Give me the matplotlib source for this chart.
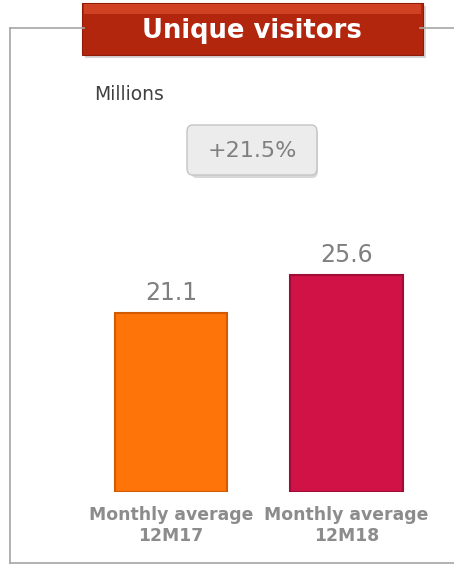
import matplotlib
matplotlib.use('Agg')
import matplotlib.pyplot as plt
from matplotlib.patches import FancyBboxPatch, Rectangle
from matplotlib.lines import Line2D

# data
categories = ['Monthly average\n12M17', 'Monthly average\n12M18']
values = [21.1, 25.6]
value_labels = ['21.1', '25.6']
growth_label = '+21.5%'
title = 'Unique visitors'
unit_label = 'Millions'

bar_colors = ['#ff7409', '#d01247']
edge_colors = ['#d25a00', '#a10c36']

W, H = 454, 567
fig = plt.figure(figsize=(W / 100, H / 100), dpi=100)
fig.patch.set_facecolor('white')

def fx(px):
    return px / W

def fy(py):
    # py measured from top of image
    return 1 - py / H

# frame lines
frame_col = '#a6a6a6'
fig.add_artist(Line2D([fx(10), fx(10)], [fy(28), fy(563)], color=frame_col, lw=1.2))
fig.add_artist(Line2D([fx(10), fx(454)], [fy(563), fy(563)], color=frame_col, lw=1.2))
fig.add_artist(Line2D([fx(10), fx(84)], [fy(28), fy(28)], color=frame_col, lw=1.2))
fig.add_artist(Line2D([fx(420), fx(454)], [fy(28), fy(28)], color=frame_col, lw=1.2))

# bar axes: baseline at y=492 px, ~8.46 px per unit
ax = fig.add_axes([0, 75 / H, 1, 254 / H])
ax.set_xlim(-171 / 175.5, (W - 171) / 175.5)
ax.set_ylim(0, 30)
ax.axis('off')
x = [0, 1]
bars = ax.bar(x, values, width=0.64, color=bar_colors, edgecolor=edge_colors, linewidth=1.5)
for xi, v, lab in zip(x, values, value_labels):
    ax.text(xi, v + 1.55, lab, ha='center', va='baseline', fontsize=17, color='#7f7f7f')
for xi, cat in zip(x, categories):
    ax.text(xi, -1.6, cat, ha='center', va='top', fontsize=12.4, fontweight='bold',
            color='#8c8c8c', linespacing=1.25)

# title banner
shadow = Rectangle((fx(85), fy(58)), fx(341), fy(6) - fy(58), transform=fig.transFigure,
                   facecolor='#bbbbbb', edgecolor='none', alpha=0.6)
fig.add_artist(shadow)
banner = Rectangle((fx(82), fy(55)), fx(341), fy(3) - fy(55), transform=fig.transFigure,
                   facecolor='#b3260e', edgecolor='#8e1c08', lw=0.8)
fig.add_artist(banner)
top_strip = Rectangle((fx(84), fy(14)), fx(337), fy(4) - fy(14), transform=fig.transFigure,
                      facecolor='#d8482a', edgecolor='none', alpha=0.8)
fig.add_artist(top_strip)
fig.text(fx(252), fy(31), title, ha='center', va='center', fontsize=18.6, fontweight='bold',
         color='white')

# unit label
fig.text(fx(94), fy(95), unit_label, ha='left', va='center', fontsize=13.5, color='#404040')

# growth box
gshadow = FancyBboxPatch((fx(191), fy(178)), fx(127), fy(128) - fy(178),
                         boxstyle='round,pad=0,rounding_size=0.012',
                         transform=fig.transFigure, facecolor='#c8c8c8', edgecolor='none', alpha=0.7)
fig.add_artist(gshadow)
gbox = FancyBboxPatch((fx(187), fy(175)), fx(130), fy(125) - fy(175),
                      boxstyle='round,pad=0,rounding_size=0.012',
                      transform=fig.transFigure, facecolor='#ececec', edgecolor='#c4c4c4', lw=1)
fig.add_artist(gbox)
fig.text(fx(252), fy(151), growth_label, ha='center', va='center', fontsize=16, color='#7f7f7f')

fig.savefig('out.png', dpi=100, facecolor='white')
